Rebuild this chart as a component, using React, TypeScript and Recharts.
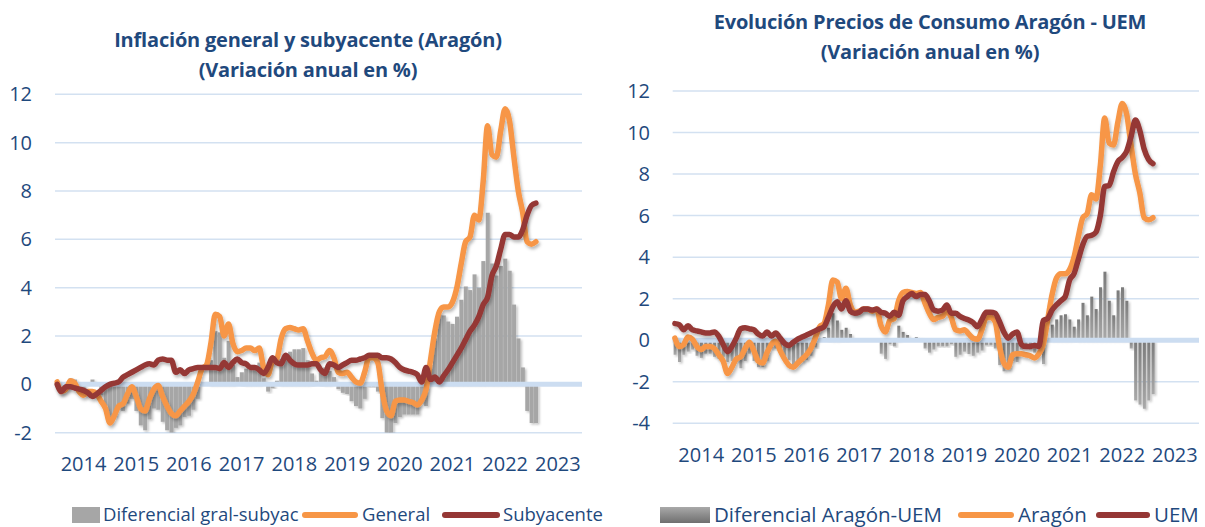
import { Bar, CartesianGrid, ComposedChart, Line, ReferenceLine, XAxis, YAxis } from 'recharts';

// Etiquetas del eje de categorías (una por año, centradas a mitad de año)
const years = ['2014', '2015', '2016', '2017', '2018', '2019', '2020', '2021', '2022', '2023'];

// IPC general Aragón, variación anual (%), ene-2014 .. feb-2023
const general = [
  0.1, -0.3, -0.2, 0.15, 0.05, -0.3, -0.45, -0.3, -0.3, -0.4, -0.7, -1.0,
  -1.6, -1.3, -0.9, -0.8, -0.4, -0.1, -0.5, -1.0, -1.1, -0.6, -0.2, -0.05,
  -0.5, -0.9, -1.2, -1.3, -1.1, -0.9, -0.7, -0.4, 0.1, 0.65, 0.8, 1.7,
  2.9, 2.8, 2.0, 2.5, 1.7, 1.35, 1.4, 1.5, 1.5, 1.4, 1.5, 0.7,
  0.4, 0.95, 1.05, 1.9, 2.3, 2.35, 2.3, 2.25, 2.3, 1.8, 1.3, 1.0,
  1.1, 1.15, 1.4, 1.1, 0.5, 0.45, 0.5, 0.3, 0.1, 0.05, 0.5, 1.1,
  1.1, 0.9, -0.3, -1.1, -1.3, -0.7, -0.65, -0.65, -0.7, -0.75, -0.85, -0.65,
  -0.2, 1.0, 2.2, 3.0, 3.2, 3.2, 3.4, 4.0, 5.0, 5.9, 6.1, 7.0,
  6.8, 8.4, 10.7, 9.5, 9.4, 10.5, 11.4, 10.9, 9.4, 8.0, 7.1, 5.9,
  5.8, 5.9,
];

// Inflación subyacente Aragón
const subyacente = [
  0.0, -0.3, -0.1, -0.1, -0.15, -0.2, -0.25, -0.35, -0.5, -0.4, -0.25, -0.1,
  0.0, 0.05, 0.1, 0.3, 0.4, 0.5, 0.6, 0.7, 0.8, 0.85, 0.8, 1.0,
  1.05, 1.0, 1.0, 0.5, 0.6, 0.45, 0.6, 0.65, 0.7, 0.7, 0.7, 0.7,
  0.7, 0.65, 0.9, 0.7, 0.9, 1.05, 0.9, 0.85, 0.7, 0.7, 0.6, 0.45,
  0.7, 1.1, 0.9, 0.85, 1.2, 1.0, 0.85, 0.8, 0.8, 0.8, 0.85, 0.85,
  0.6, 0.45, 0.85, 0.8, 0.7, 0.8, 0.9, 1.0, 1.0, 1.05, 1.1, 1.2,
  1.2, 1.2, 1.1, 1.1, 1.05, 0.9, 0.7, 0.6, 0.55, 0.5, 0.4, 0.1,
  0.7, 0.2, 0.3, 0.1, 0.35, 0.6, 0.9, 1.2, 1.5, 1.85, 2.2, 2.45,
  2.8, 3.3, 3.6, 4.5, 4.9, 5.6, 6.2, 6.2, 6.1, 6.1, 6.4, 7.0,
  7.4, 7.5,
];

// Diferencial general - subyacente (barras)
const difGralSubyac = [
  0.1, 0.0, -0.1, 0.25, 0.2, -0.1, -0.2, 0.05, 0.2, 0.0, -0.45, -0.9,
  -1.6, -1.35, -1.0, -1.1, -0.8, -0.6, -1.1, -1.7, -1.9, -1.45, -1.0, -1.05,
  -1.55, -1.9, -2.0, -1.8, -1.7, -1.35, -1.3, -1.05, -0.6, -0.05, 0.1, 1.0,
  2.2, 2.15, 1.1, 1.8, 0.8, 0.3, 0.5, 0.65, 0.8, 0.7, 0.9, 0.25,
  -0.3, -0.15, 0.15, 1.05, 1.1, 1.35, 1.45, 1.45, 1.5, 1.0, 0.45, 0.15,
  0.5, 0.7, 0.55, 0.3, -0.2, -0.35, -0.4, -0.7, -0.9, -1.0, -0.6, -0.1,
  -0.1, -0.3, -1.4, -2.0, -2.0, -1.6, -1.35, -1.25, -1.25, -1.25, -1.25, -0.75,
  -0.9, 0.8, 1.9, 2.9, 2.85, 2.6, 2.5, 2.8, 3.5, 4.05, 3.9, 4.55,
  4.0, 5.1, 7.1, 5.0, 4.5, 4.9, 5.2, 4.7, 3.3, 1.9, 0.7, -1.1,
  -1.6, -1.6,
];

// IPCA zona euro (UEM)
const uem = [
  0.8, 0.75, 0.5, 0.7, 0.5, 0.45, 0.4, 0.35, 0.35, 0.4, 0.2, -0.2,
  -0.55, -0.3, 0.1, 0.55, 0.6, 0.55, 0.5, 0.3, 0.2, 0.4, 0.2, 0.35,
  0.1, -0.15, -0.25, -0.1, 0.05, 0.15, 0.25, 0.35, 0.45, 0.55, 0.65, 1.1,
  1.6, 1.85, 1.5, 1.9, 1.4, 1.3, 1.35, 1.5, 1.5, 1.45, 1.5, 1.35,
  1.3, 1.15, 1.35, 1.2, 1.9, 2.1, 2.25, 2.1, 2.2, 2.2, 1.9, 1.45,
  1.4, 1.45, 1.7, 1.3, 1.3, 1.15, 1.05, 0.97, 0.85, 0.65, 1.0, 1.35,
  1.35, 1.3, 0.9, 0.4, 0.1, 0.3, 0.4, -0.2, -0.3, -0.3, -0.25, -0.3,
  0.95, 1.05, 1.45, 1.7, 1.9, 2.1, 2.9, 3.2, 3.9, 4.6, 5.0, 5.05,
  5.2, 6.0, 7.4, 7.45, 8.1, 8.6, 8.8, 9.1, 9.8, 10.6, 10.1, 9.2,
  8.7, 8.5,
];

// Diferencial Aragón - UEM (barras)
const difAragonUem = [
  -0.7, -1.05, -0.7, -0.55, -0.45, -0.75, -0.85, -0.65, -0.65, -0.8, -0.9, -0.8,
  -1.05, -1.0, -1.0, -1.35, -1.0, -0.65, -1.0, -1.3, -1.3, -1.0, -0.4, -0.4,
  -0.6, -0.75, -0.95, -1.2, -1.15, -1.05, -0.95, -0.75, -0.35, 0.1, 0.15, 0.6,
  1.3, 0.95, 0.5, 0.6, 0.3, 0.05, 0.05, 0.0, 0.0, -0.05, 0.0, -0.65,
  -0.9, -0.2, -0.3, 0.7, 0.4, 0.25, 0.05, 0.15, 0.1, -0.4, -0.6, -0.45,
  -0.3, -0.3, -0.3, -0.2, -0.8, -0.7, -0.55, -0.67, -0.75, -0.6, -0.5, -0.25,
  -0.25, -0.4, -1.2, -1.5, -1.4, -1.0, -1.05, -0.45, -0.4, -0.45, -0.6, -0.35,
  -1.15, -0.05, 0.75, 1.0, 1.2, 1.25, 1.0, 0.65, 1.0, 1.8, 1.2, 2.1,
  1.5, 2.55, 3.3, 1.9, 1.2, 2.4, 2.55, 1.9, -0.4, -2.9, -3.1, -3.3,
  -2.9, -2.6,
];

const months = years.flatMap((y) =>
  Array.from({ length: 12 }, (_, m) => `${y}-${String(m + 1).padStart(2, '0')}`),
);
const yearTicks = years.map((y) => `${y}-07`);

const leftData = months.map((month, i) => ({
  month,
  dif: difGralSubyac[i] ?? null,
  general: general[i] ?? null,
  subyacente: subyacente[i] ?? null,
}));

const rightData = months.map((month, i) => ({
  month,
  dif: difAragonUem[i] ?? null,
  aragon: general[i] ?? null,
  uem: uem[i] ?? null,
}));

const FONT = '"Open Sans", "DejaVu Sans", sans-serif';
const TEXT = '#1F497D';
const ORANGE = '#F79646';
const RED = '#953735';
const GRID = '#D3E1F1';
const ZERO = '#CCDDF1';

const tickStyle = { fontSize: 20, fill: TEXT, fontFamily: FONT };

const css = `
.shadowed .recharts-line-curve { filter: url(#lineShadow); }
.bars-shadow .recharts-bar-rectangle { filter: url(#barShadow); }
`;

function Title({ center, top, lines }: { center: number; top: number; lines: string[] }) {
  return (
    <div
      style={{
        position: 'absolute',
        left: center - 300,
        width: 600,
        top,
        textAlign: 'center',
        fontFamily: FONT,
        fontWeight: 700,
        fontSize: 20,
        lineHeight: '30px',
        color: TEXT,
        letterSpacing: -0.2,
      }}
    >
      {lines.map((l) => (
        <div key={l}>{l}</div>
      ))}
    </div>
  );
}

type LegendItem = { kind: 'box' | 'line'; x: number; w: number; fill: string; label: string; labelX: number };

function Legend({ items, fontSize }: { items: LegendItem[]; fontSize: number }) {
  const cy = 515;
  return (
    <>
      {items.map((it) => (
        <div key={it.label}>
          <div
            style={{
              position: 'absolute',
              left: it.x,
              width: it.w,
              top: it.kind === 'box' ? cy - 8 : cy - 3,
              height: it.kind === 'box' ? 16 : 6,
              borderRadius: it.kind === 'line' ? 3 : 0,
              background: it.fill,
            }}
          />
          <div
            style={{
              position: 'absolute',
              left: it.labelX,
              top: cy - 14,
              fontFamily: FONT,
              fontSize,
              lineHeight: '26px',
              color: TEXT,
              whiteSpace: 'nowrap',
            }}
          >
            {it.label}
          </div>
        </div>
      ))}
    </>
  );
}

export default function App() {
  return (
    <div style={{ position: 'absolute', left: 0, top: 0, width: 1205, height: 527, background: '#fff', overflow: 'hidden' }}>
      <style>{css}</style>
      <svg width={0} height={0} style={{ position: 'absolute' }}>
        <defs>
          <filter id="lineShadow" x="-10%" y="-10%" width="120%" height="130%">
            <feDropShadow dx="1.5" dy="2.5" stdDeviation="1.6" floodColor="#000" floodOpacity="0.28" />
          </filter>
          <filter id="barShadow" x="-50%" y="-10%" width="250%" height="130%">
            <feDropShadow dx="1.5" dy="1.5" stdDeviation="1.2" floodColor="#000" floodOpacity="0.25" />
          </filter>
          <linearGradient id="difGrad" x1="0" y1="0" x2="0" y2="1">
            <stop offset="0" stopColor="#7b7b7b" />
            <stop offset="1" stopColor="#a9a9a9" />
          </linearGradient>
        </defs>
      </svg>

      <Title center={308} top={25} lines={['Inflación general y subyacente (Aragón)', '(Variación anual en %)']} />
      <Title center={930} top={7} lines={['Evolución Precios de Consumo Aragón - UEM', '(Variación anual en %)']} />

      {/* Gráfico izquierdo */}
      <div style={{ position: 'absolute', left: 0, top: 0 }}>
        <ComposedChart
          width={600}
          height={490}
          data={leftData}
          margin={{ top: 94.3, right: 18, bottom: 17.3, left: 0 }}
          barCategoryGap="8%"
        >
          <CartesianGrid vertical={false} stroke={GRID} strokeWidth={1.5} />
          <XAxis
            dataKey="month"
            ticks={yearTicks}
            interval={0}
            tickFormatter={(v: string) => v.slice(0, 4)}
            axisLine={false}
            tickLine={false}
            tickSize={0}
            tickMargin={24}
            height={40}
            tick={tickStyle}
          />
          <YAxis
            domain={[-2, 12]}
            ticks={[-2, 0, 2, 4, 6, 8, 10, 12]}
            allowDataOverflow
            width={55}
            axisLine={false}
            tickLine={false}
            tickSize={0}
            tickMargin={23}
            tick={tickStyle}
          />
          <Bar dataKey="dif" fill="#A6A6A6" className="bars-shadow" isAnimationActive={false} />
          <ReferenceLine y={0} stroke={ZERO} strokeWidth={5} />
          <Line
            type="monotone"
            dataKey="general"
            stroke={ORANGE}
            strokeWidth={5.5}
            strokeLinecap="round"
            strokeLinejoin="round"
            dot={false}
            activeDot={false}
            className="shadowed"
            isAnimationActive={false}
          />
          <Line
            type="monotone"
            dataKey="subyacente"
            stroke={RED}
            strokeWidth={5.5}
            strokeLinecap="round"
            strokeLinejoin="round"
            dot={false}
            activeDot={false}
            className="shadowed"
            isAnimationActive={false}
          />
        </ComposedChart>
      </div>

      {/* Gráfico derecho */}
      <div style={{ position: 'absolute', left: 600, top: 0 }}>
        <ComposedChart
          width={605}
          height={490}
          data={rightData}
          margin={{ top: 91, right: 6, bottom: 26.7, left: 0 }}
          barCategoryGap="21%"
        >
          <CartesianGrid vertical={false} stroke={GRID} strokeWidth={1.5} />
          <XAxis
            dataKey="month"
            ticks={yearTicks}
            interval={0}
            tickFormatter={(v: string) => v.slice(0, 4)}
            axisLine={false}
            tickLine={false}
            tickSize={0}
            tickMargin={24}
            height={40}
            tick={tickStyle}
          />
          <YAxis
            domain={[-4, 12]}
            ticks={[-4, -2, 0, 2, 4, 6, 8, 10, 12]}
            allowDataOverflow
            width={72.7}
            axisLine={false}
            tickLine={false}
            tickSize={0}
            tickMargin={22.7}
            tick={tickStyle}
          />
          <Bar dataKey="dif" fill="url(#difGrad)" className="bars-shadow" isAnimationActive={false} />
          <ReferenceLine y={0} stroke={ZERO} strokeWidth={5} />
          <Line
            type="monotone"
            dataKey="aragon"
            stroke={ORANGE}
            strokeWidth={5.5}
            strokeLinecap="round"
            strokeLinejoin="round"
            dot={false}
            activeDot={false}
            className="shadowed"
            isAnimationActive={false}
          />
          <Line
            type="monotone"
            dataKey="uem"
            stroke={RED}
            strokeWidth={5.5}
            strokeLinecap="round"
            strokeLinejoin="round"
            dot={false}
            activeDot={false}
            className="shadowed"
            isAnimationActive={false}
          />
        </ComposedChart>
      </div>

      <Legend
        fontSize={18.5}
        items={[
          { kind: 'box', x: 72, w: 28, fill: '#A6A6A6', label: 'Diferencial gral-subyac', labelX: 103 },
          { kind: 'line', x: 302, w: 56, fill: ORANGE, label: 'General', labelX: 362 },
          { kind: 'line', x: 442, w: 58, fill: RED, label: 'Subyacente', labelX: 503 },
        ]}
      />
      <Legend
        fontSize={20.5}
        items={[
          { kind: 'box', x: 660, w: 50, fill: 'linear-gradient(#a9a9a9, #6f6f6f)', label: 'Diferencial Aragón-UEM', labelX: 714 },
          { kind: 'line', x: 958, w: 56, fill: ORANGE, label: 'Aragón', labelX: 1018 },
          { kind: 'line', x: 1096, w: 54, fill: RED, label: 'UEM', labelX: 1154 },
        ]}
      />
    </div>
  );
}
